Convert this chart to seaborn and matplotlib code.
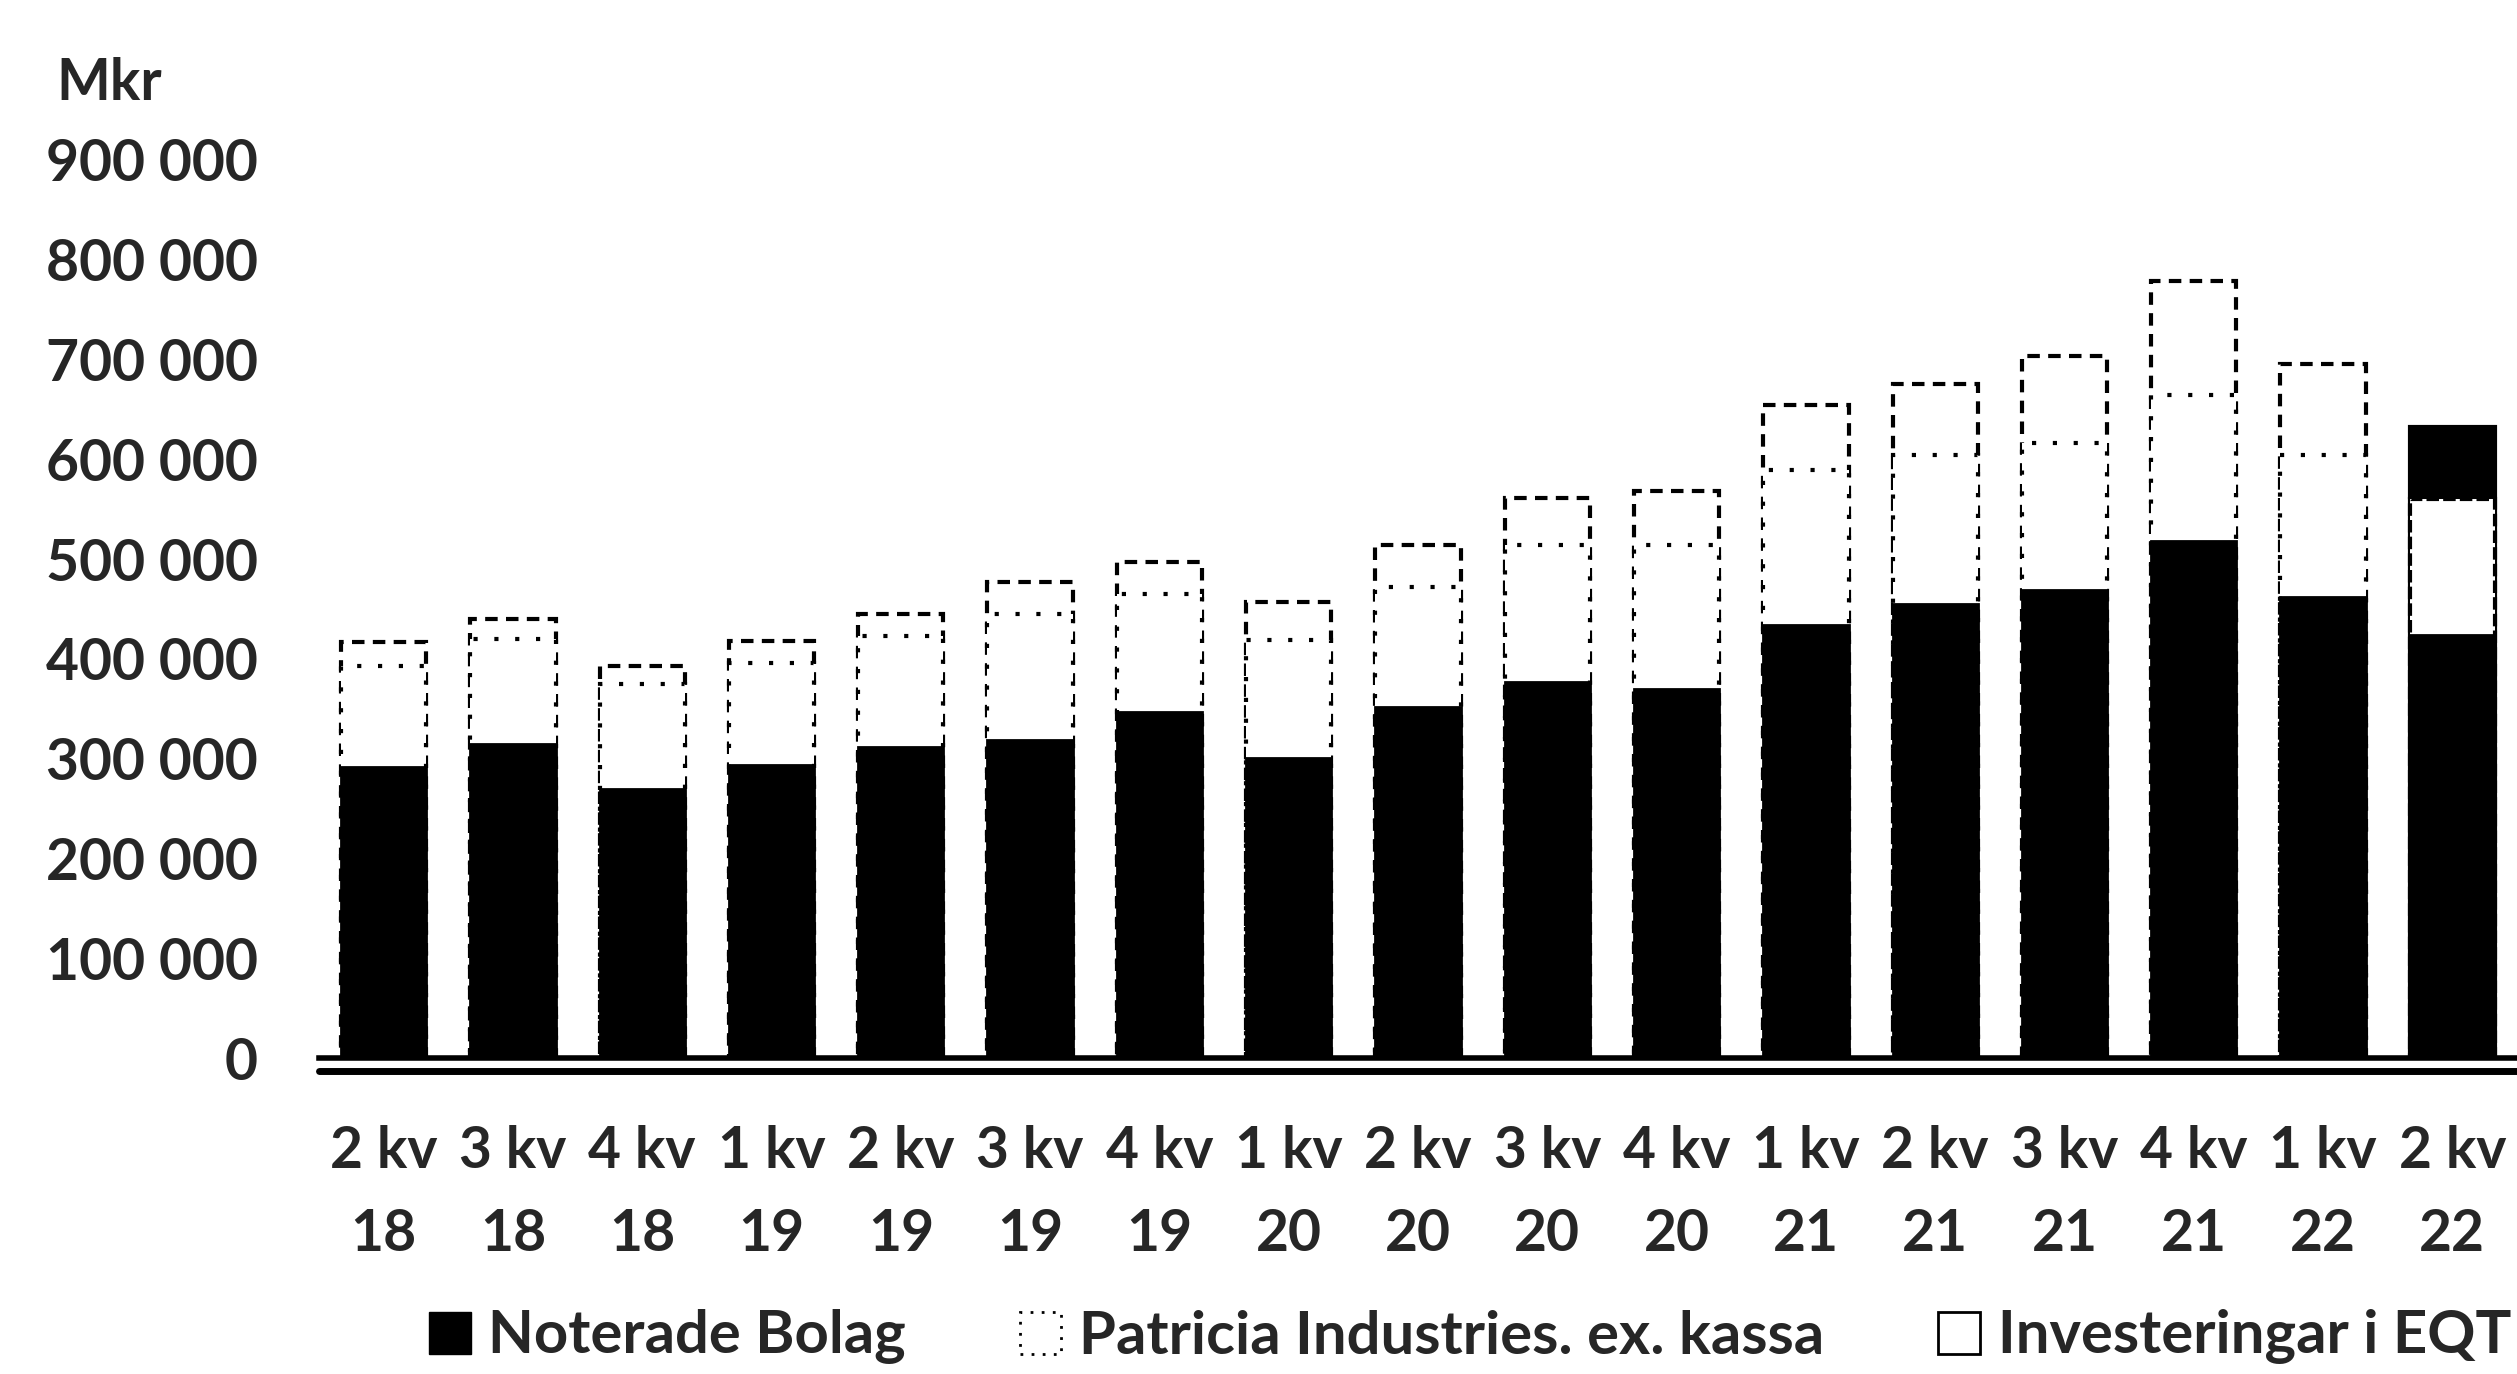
import matplotlib
matplotlib.use("Agg")
import matplotlib.pyplot as plt
import matplotlib.patches as mpatches
import seaborn as sns
import pandas as pd

# ---- data (Mkr) ----
categories = ["2 kv\n18", "3 kv\n18", "4 kv\n18", "1 kv\n19", "2 kv\n19", "3 kv\n19",
              "4 kv\n19", "1 kv\n20", "2 kv\n20", "3 kv\n20", "4 kv\n20", "1 kv\n21",
              "2 kv\n21", "3 kv\n21", "4 kv\n21", "1 kv\n22", "2 kv\n22"]
noterade_bolag = [292000, 315000, 270000, 294000, 312000, 319000, 347000, 301000, 352000,
                  377000, 370000, 434000, 455000, 469000, 518000, 462000, 424000]
patricia_industries = [101000, 105000, 105000, 102000, 111000, 126000, 118000, 118000, 120000,
                       137000, 144000, 155000, 149000, 147000, 146000, 142000, 136000]
investeringar_eqt = [24000, 20000, 18000, 22000, 22000, 32000, 32000, 38000, 42000,
                     47000, 54000, 65000, 72000, 88000, 115000, 92000, 72000]
series_names = ["Noterade Bolag", "Patricia Industries. ex. kassa", "Investeringar i EQT"]
y_ticks = [0, 100000, 200000, 300000, 400000, 500000, 600000, 700000, 800000, 900000]
y_tick_labels = ["0", "100 000", "200 000", "300 000", "400 000", "500 000",
                 "600 000", "700 000", "800 000", "900 000"]
y_unit = "Mkr"

df = pd.DataFrame({"kvartal": categories,
                   "noterade": noterade_bolag,
                   "patricia": patricia_industries,
                   "eqt": investeringar_eqt})
df["lvl2"] = df["noterade"] + df["patricia"]
df["lvl3"] = df["lvl2"] + df["eqt"]

sns.set_theme(style="white")
plt.rcParams["font.family"] = ["Lato", "DejaVu Sans"]
plt.rcParams["font.weight"] = "bold"
FS = 41

W, H = 2517, 1374
fig = plt.figure(figsize=(W / 100, H / 100), dpi=100)
fig.patch.set_facecolor("white")
ax = fig.add_axes([319 / W, 1 - 1058 / H, (W - 319) / W, (1058 - 160) / H])

BW = 0.66
# top layer: EQT (dashed outline)
sns.barplot(data=df, x="kvartal", y="lvl3", order=categories, color="white",
            width=BW, ax=ax, saturation=1)
n = len(categories)
p_eqt = ax.patches[:n]
for p in p_eqt:
    p.set_facecolor("white")
    p.set_edgecolor("black")
    p.set_linestyle((0, (3, 2)))
    p.set_linewidth(3)
# middle layer: Patricia (dotted outline)
sns.barplot(data=df, x="kvartal", y="lvl2", order=categories, color="white",
            width=BW, ax=ax, saturation=1)
p_pat = ax.patches[n:2 * n]
for p in p_pat:
    p.set_facecolor("white")
    p.set_edgecolor("black")
    p.set_linestyle((0, (1, 4)))
    p.set_linewidth(3)
# bottom layer: Noterade (solid black)
sns.barplot(data=df, x="kvartal", y="noterade", order=categories, color="black",
            width=BW, ax=ax, saturation=1)
for p in ax.patches[2 * n:3 * n]:
    p.set_facecolor("black")
    p.set_edgecolor("black")
    p.set_linewidth(2)
# the scanned last quarter shows its EQT segment filled black
p_eqt[-1].set_facecolor("black")
p_eqt[-1].set_linestyle("-")
p_pat[-1].set_linestyle((0, (3, 1)))

ax.set_xlim(-0.5, n - 0.5)
ax.set_ylim(0, 900000)
ax.set_yticks(y_ticks)
ax.set_yticklabels(y_tick_labels)
ax.set_xlabel("")
ax.set_ylabel("")
for s in ["left", "right", "top"]:
    ax.spines[s].set_visible(False)
ax.spines["bottom"].set_color("black")
ax.spines["bottom"].set_linewidth(4)
ax.axhline(-13000, color="black", lw=5, clip_on=False, zorder=5)
ax.tick_params(axis="y", length=0, pad=44, labelsize=FS)
ax.tick_params(axis="x", length=0, pad=48, labelsize=FS)
for t in ax.get_xticklabels():
    t.set_linespacing(1.7)
ax.grid(False)

fig.text(56 / W, 1 - 83 / H, y_unit, fontsize=FS, ha="left", va="center")

handles = [mpatches.Patch(facecolor="black", edgecolor="black"),
           mpatches.Patch(facecolor="white", edgecolor="black", linestyle=(0, (1, 3)), linewidth=2),
           mpatches.Patch(facecolor="white", edgecolor="black", linewidth=2)]
fig.legend(handles, series_names, loc="center", bbox_to_anchor=(0.584, 1 - 1337 / H),
           ncol=3, frameon=False, fontsize=43, handlelength=0.7, handleheight=0.7,
           handletextpad=0.3, columnspacing=1.9)

fig.savefig("out.png", dpi=100, facecolor="white")
